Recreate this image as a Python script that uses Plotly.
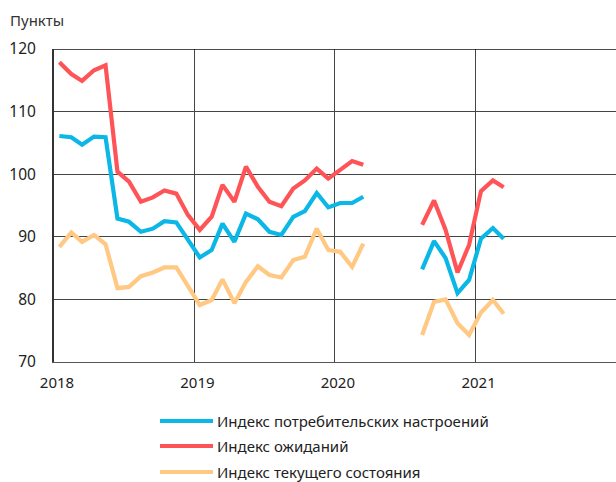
import plotly.graph_objects as go

months_a = [f"{2018 + m // 12}-{m % 12 + 1:02d}-15" for m in range(0, 27)]
months_gap = ["2020-04-15", "2020-05-15", "2020-06-15", "2020-07-15"]
months_b = ["2020-08-15", "2020-09-15", "2020-10-15", "2020-11-15", "2020-12-15",
            "2021-01-15", "2021-02-15", "2021-03-15"]
dates = months_a + months_gap + months_b

sentiment = [106.1, 105.9, 104.7, 106.0, 105.9, 92.9, 92.4, 90.8, 91.3, 92.5, 92.3, 89.5,
             86.7, 87.9, 92.1, 89.2, 93.7, 92.8, 90.8, 90.3, 93.2, 94.1, 97.0, 94.7,
             95.4, 95.4, 96.4,
             None, None, None, None,
             84.8, 89.3, 86.6, 81.0, 83.1, 89.7, 91.4, 89.7]
expectations = [117.9, 116.0, 114.9, 116.6, 117.4, 100.4, 98.8, 95.6, 96.3, 97.4, 96.9, 93.5,
                91.1, 93.2, 98.3, 95.6, 101.2, 98.0, 95.6, 94.9, 97.7, 99.0, 100.9, 99.3,
                100.7, 102.1, 101.5,
                None, None, None, None,
                91.9, 95.8, 91.1, 84.3, 88.7, 97.3, 99.0, 97.9]
current = [88.4, 90.7, 89.2, 90.3, 88.8, 81.8, 82.0, 83.7, 84.3, 85.1, 85.1, 82.3,
           79.1, 79.9, 83.2, 79.4, 82.8, 85.3, 83.9, 83.5, 86.3, 86.8, 91.3, 87.9,
           87.6, 85.2, 88.9,
           None, None, None, None,
           74.3, 79.6, 80.0, 76.2, 74.3, 77.9, 79.9, 77.7]

names = ["Индекс потребительских настроений", "Индекс ожиданий", "Индекс текущего состояния"]
colors = ["#0bb7e6", "#ff5457", "#ffc883"]
series = [sentiment, expectations, current]

FONT = "Noto Sans"

fig = go.Figure()
# draw order: current, sentiment, expectations
for idx in [2, 0, 1]:
    fig.add_trace(go.Scatter(x=dates, y=series[idx], mode="lines", name=names[idx],
                             line=dict(color=colors[idx], width=4.2),
                             connectgaps=False, showlegend=False))

PLOT_W = 562.0
PLOT_H = 313.0
PLOT_L = 54
PLOT_B = 362

shapes = [
    dict(type="line", xref="paper", yref="y", x0=0, x1=1, y0=120, y1=120,
         line=dict(color="#111", width=1.5)),
]
annotations = [
    dict(text="Пункты", xref="paper", yref="paper", x=(8 - PLOT_L) / PLOT_W, y=(PLOT_B - 20) / PLOT_H,
         xanchor="left", yanchor="middle", showarrow=False,
         font=dict(size=15, color="#333", family=FONT)),
]
leg_y = [421, 446, 472]
for i in range(3):
    py = (PLOT_B - leg_y[i]) / PLOT_H
    shapes.append(dict(type="line", xref="paper", yref="paper",
                       x0=(160 - PLOT_L) / PLOT_W, x1=(213 - PLOT_L) / PLOT_W, y0=py, y1=py,
                       line=dict(color=colors[i], width=4)))
    annotations.append(dict(text=names[i], xref="paper", yref="paper",
                            x=(215 - PLOT_L) / PLOT_W, y=py, xanchor="left", yanchor="middle",
                            showarrow=False, font=dict(size=15, color="#222", family=FONT)))

fig.update_layout(
    width=616, height=482,
    margin=dict(l=54, r=0, t=49, b=120),
    plot_bgcolor="white", paper_bgcolor="white",
    font=dict(family=FONT, size=16, color="#222"),
    shapes=shapes, annotations=annotations,
    showlegend=False,
)
fig.update_xaxes(type="date", range=["2018-01-01", "2022-01-01"], dtick="M12",
                 tick0="2018-01-01", tickformat="%Y", showgrid=True, gridcolor="#444",
                 gridwidth=1, showline=True, linecolor="#555", linewidth=1, ticks="",
                 tickfont=dict(size=15), ticklabelstandoff=7, ticklabelshift=3, zeroline=False)
fig.update_yaxes(range=[70, 120], dtick=10, showgrid=True, gridcolor="#444", gridwidth=1,
                 showline=True, linecolor="#333", linewidth=2, ticks="",
                 tickfont=dict(size=15.5), ticklabelstandoff=13, zeroline=False)

fig.write_html("out.html", config={"displayModeBar": False},
               post_script="document.body.style.margin='0';")
